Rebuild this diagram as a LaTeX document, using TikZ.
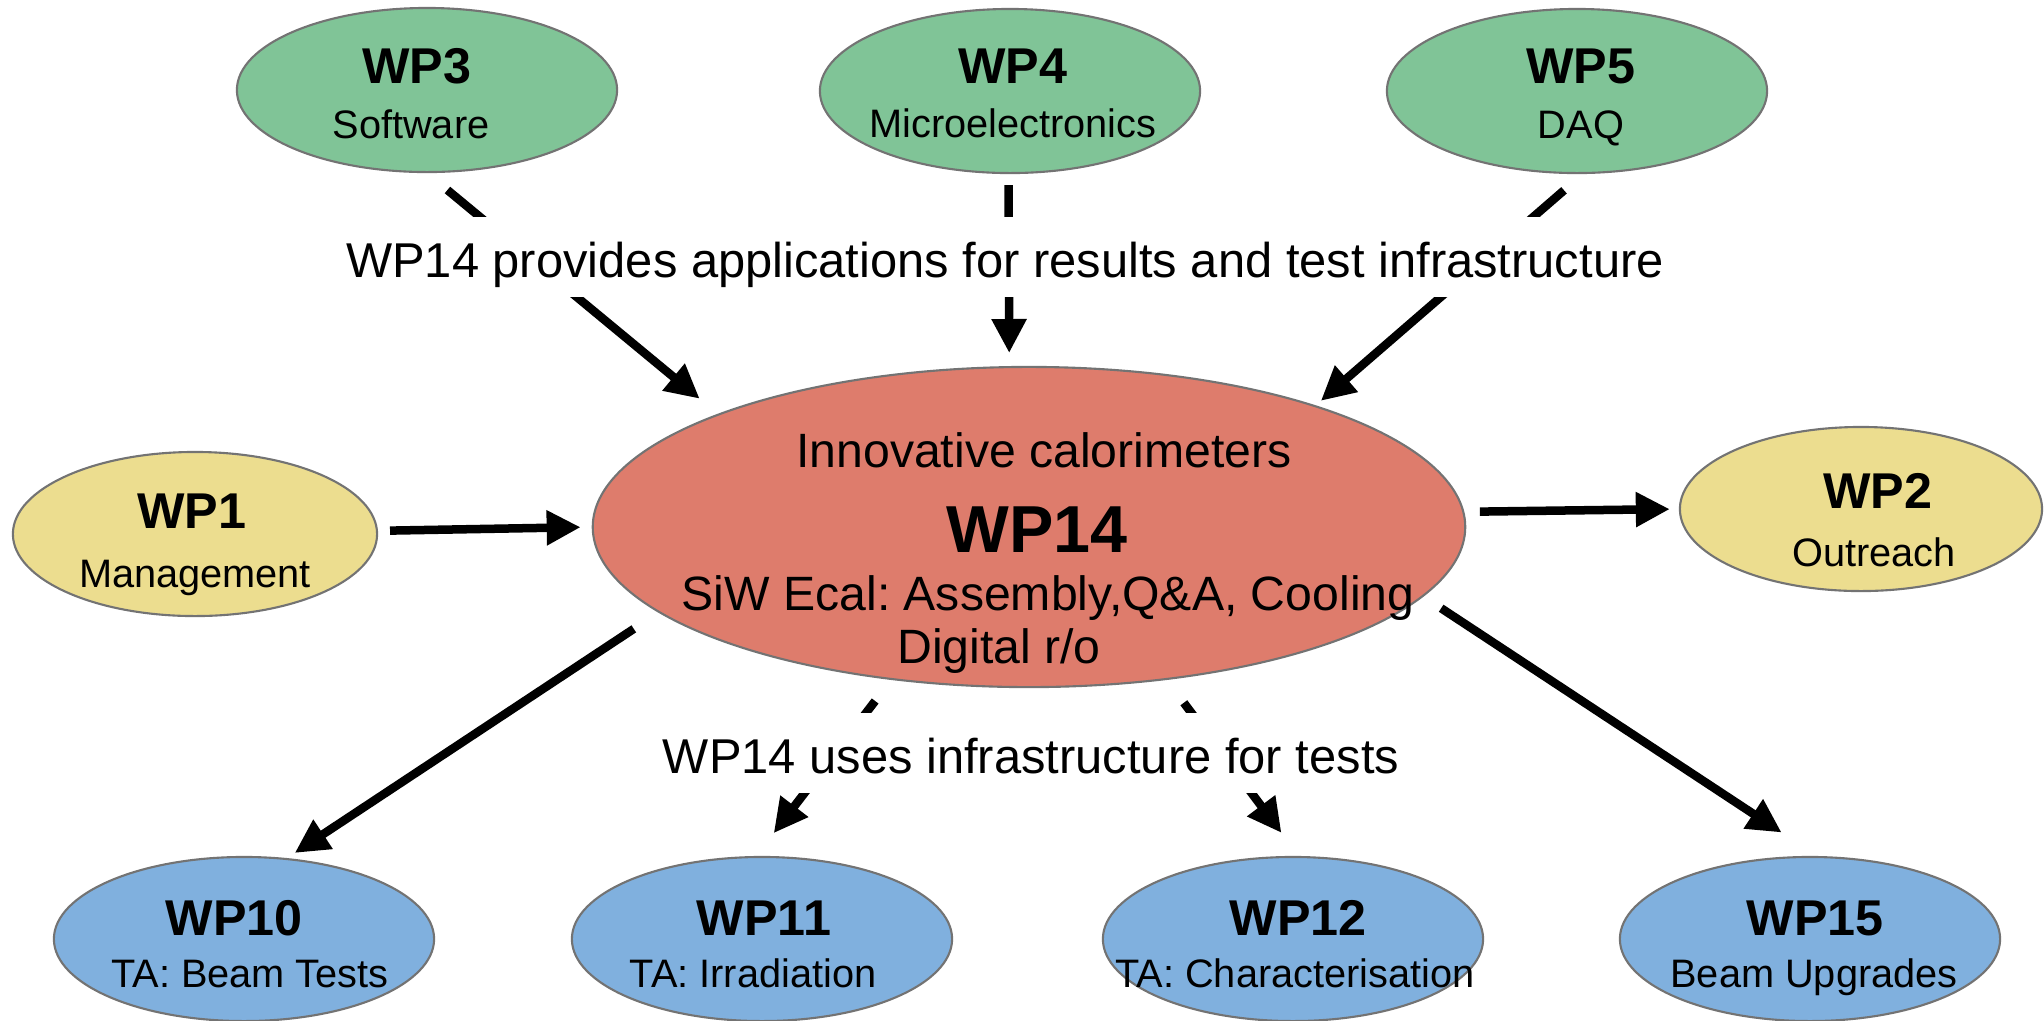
\documentclass[tikz,border=0pt]{standalone}
\usepackage{fontspec}
\setmainfont{Liberation Sans}
\usepackage{xcolor}
\usepackage{tikz}
\usetikzlibrary{shapes.geometric,arrows.meta}
\frenchspacing

\definecolor{wpgreen}{HTML}{80C497}
\definecolor{wpyellow}{HTML}{ECDD8F}
\definecolor{wpred}{HTML}{DE7C6C}
\definecolor{wpblue}{HTML}{80B0DE}

\begin{document}
\begin{tikzpicture}[x=0.01cm,y=-0.01cm,>={Triangle[length=3.4mm,width=3.3mm]},
  pkg/.style={ellipse,draw=black!55,line width=0.6pt,inner sep=0pt,minimum width=3.8cm,minimum height=1.64cm},
  ttl/.style={anchor=base,inner sep=0pt,font=\fontsize{14.3pt}{16pt}\selectfont\bfseries},
  sub/.style={anchor=base,inner sep=0pt,font=\fontsize{11.3pt}{13pt}\selectfont},
  txt/.style={anchor=base,inner sep=0pt,font=\fontsize{13.7pt}{16pt}\selectfont},
  lbl/.style={anchor=base,fill=white,inner xsep=1mm,inner ysep=0pt,text height=6mm,text depth=2mm,font=\fontsize{13.9pt}{16pt}\selectfont},
  arr/.style={->,line width=0.85mm}]
\useasboundingbox (0,0) rectangle (2044,1020);

% work packages
\node[pkg,fill=wpgreen] (wp3) at (427,90) {};
\node[pkg,fill=wpgreen] (wp4) at (1010,91) {};
\node[pkg,fill=wpgreen] (wp5) at (1577,91) {};
\node[pkg,fill=wpyellow,minimum width=3.64cm] (wp1) at (195,534) {};
\node[pkg,fill=wpyellow,minimum width=3.62cm] (wp2) at (1861,509) {};
\node[pkg,fill=wpred,minimum width=8.72cm,minimum height=3.2cm] (wp14) at (1029,527) {};
\node[pkg,fill=wpblue] (wp10) at (244,939) {};
\node[pkg,fill=wpblue] (wp11) at (762,939) {};
\node[pkg,fill=wpblue] (wp12) at (1293,939) {};
\node[pkg,fill=wpblue] (wp15) at (1810,939) {};

\node[ttl] (wp3t) at (417,83) {WP3};
\node[sub] (wp3s) at (411,138) {Software};
\node[ttl] (wp4t) at (1013,83) {WP4};
\node[sub] (wp4s) at (1013,137) {Microelectronics};
\node[ttl] (wp5t) at (1581,83) {WP5};
\node[sub] (wp5s) at (1581,138) {DAQ};
\node[ttl] (wp1t) at (192,528) {WP1};
\node[sub] (wp1s) at (195,587) {Management};
\node[ttl] (wp2t) at (1878,508) {WP2};
\node[sub] (wp2s) at (1874,566) {Outreach};
\node[ttl] (wp10t) at (234,935) {WP10};
\node[sub] (wp10s) at (250,987) {TA: Beam Tests};
\node[ttl] (wp11t) at (764,935) {WP11};
\node[sub] (wp11s) at (753,987) {TA: Irradiation};
\node[ttl] (wp12t) at (1298,935) {WP12};
\node[sub] (wp12s) at (1295,987) {TA: Characterisation};
\node[ttl] (wp15t) at (1815,935) {WP15};
\node[sub] (wp15s) at (1814,987) {Beam Upgrades};

% WP14 itself
\node[txt] (calo) at (1044,467) {Innovative calorimeters};
\node[anchor=base,inner sep=0pt,font=\fontsize{18.9pt}{21pt}\selectfont\bfseries] (wp14t) at (1037,552) {WP14};
\node[txt] (siw) at (1048,610) {SiW Ecal: Assembly,Q\&A, Cooling};
\node[txt] (digi) at (999,663) {Digital r/o};

% arrows
\draw[arr,shorten <=2.65mm,shorten >=2.36mm] (wp3.-90) -- (wp14.160.3);
\draw[arr,shorten <=1.1mm,shorten >=1.3mm] (wp4.-91) -- (wp14.97.8);
\draw[arr,shorten <=2.48mm,shorten >=0.68mm] (wp5.-86.6) -- (wp14.23.7);
\draw[arr,shorten <=1.2mm,shorten >=1.1mm] (wp1.1.6) -- (wp14.180.4);
\draw[arr,shorten <=1.55mm,shorten >=0.9mm] (wp14.2.25) -- (wp2.west);
\draw[arr,shorten <=2.95mm,shorten >=0.92mm] (wp14.193.8) -- (wp10.62.75);
\draw[arr,shorten <=2.65mm,shorten >=2.87mm] (wp14.-132.7) -- (wp11.94.3);
\draw[arr,shorten <=2.85mm,shorten >=2.88mm] (wp14.-48.45) -- (wp12.86.3);
\draw[arr,shorten <=2.12mm,shorten >=4.26mm] (wp14.-10.75) -- (wp15.85.3);

% labels over the arrows
\node[lbl] (provides) at (1005,277) {WP14 provides applications for results and test infrastructure};
\node[lbl] (uses) at (1031,773) {WP14 uses infrastructure for tests};
\end{tikzpicture}
\end{document}
